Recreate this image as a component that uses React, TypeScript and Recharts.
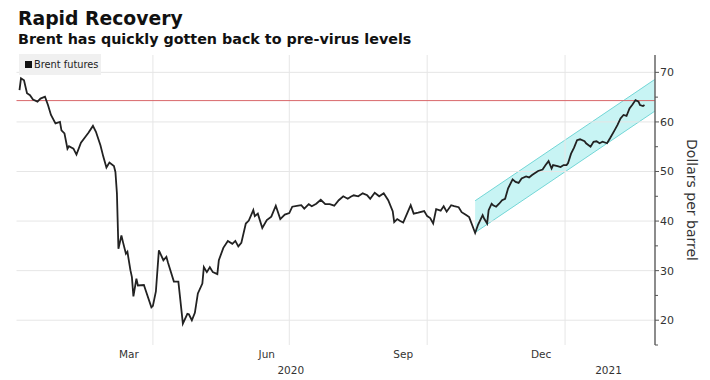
import React from 'react';
import { ComposedChart, Line, Area, XAxis, YAxis, ReferenceLine } from 'recharts';

// days since 2020-01-01
const dayIndex = [
  2, 3, 5, 7, 9, 11, 14, 16, 19, 21,
  23, 26, 29, 30, 32, 34, 35, 38, 40, 43,
  46, 48, 51, 53, 56, 58, 60, 62, 65, 66,
  67, 68, 70, 71, 73, 74, 76, 77, 78, 80,
  81, 85, 86, 90, 91, 93, 95, 98, 100, 101,
  105, 108, 111, 114, 115, 117, 119, 121, 124, 125,
  127, 129, 131, 134, 135, 138, 141, 144, 146, 148,
  150, 153, 155, 158, 159, 161, 164, 167, 170, 173,
  176, 179, 182, 184, 188, 190, 192, 195, 197, 200,
  203, 206, 209, 212, 215, 218, 221, 223, 225, 228,
  231, 234, 236, 239, 242, 245, 248, 251, 252, 254,
  256, 258, 261, 263, 265, 268, 272, 274, 276, 278,
  280, 283, 285, 287, 290, 292, 295, 297, 300, 302,
  304, 306, 308, 311, 312, 314, 315, 317, 318, 320,
  322, 324, 326, 328, 331, 333, 335, 337, 340, 342,
  344, 346, 348, 351, 353, 355, 357, 358, 361, 363,
  365, 367, 368, 370, 372, 374, 376, 379, 380, 383,
  385, 387, 389, 391, 394, 396, 399, 401, 403, 405,
  407, 409, 411, 413, 415, 416, 418, 419,
];

const brentPrice = [
  66.4, 68.8, 68.4, 65.8, 65.4, 64.5, 64.1, 64.7, 65.1, 63.4,
  61.4, 59.7, 60.0, 58.3, 57.7, 54.6, 55.1, 54.6, 53.4, 55.8,
  57.0, 57.8, 59.2, 58.0, 55.3, 52.9, 50.8, 51.8, 51.1, 49.9,
  45.6, 34.4, 37.1, 35.8, 33.4, 33.8, 30.1, 28.7, 24.8, 28.4,
  27.0, 27.1, 26.2, 22.6, 22.9, 25.8, 34.1, 32.1, 32.8, 31.7,
  27.8, 27.8, 19.3, 21.3, 21.2, 20.0, 21.5, 25.4, 27.4, 30.7,
  29.7, 30.7, 29.7, 29.3, 32.1, 34.6, 36.0, 35.4, 36.0, 34.9,
  35.6, 39.5, 40.1, 42.2, 41.0, 41.5, 38.6, 40.2, 40.9, 43.1,
  40.4, 41.3, 41.6, 42.9, 43.1, 43.2, 42.5, 43.4, 43.0, 43.5,
  44.3, 43.4, 43.4, 43.1, 44.2, 45.0, 44.5, 44.9, 45.2, 45.0,
  45.6, 45.2, 44.5, 45.7, 45.0, 45.6, 44.2, 42.0, 39.8, 40.4,
  40.0, 39.7, 41.8, 43.2, 41.5, 41.7, 42.0, 41.0, 40.6, 39.5,
  42.4, 42.1, 43.0, 41.9, 43.2, 43.0, 42.8, 41.8, 41.2, 40.8,
  39.2, 37.6, 39.3, 41.2, 40.5, 39.5, 42.2, 43.5, 43.2, 42.9,
  43.5, 44.2, 44.5, 46.6, 48.4, 47.9, 47.7, 48.6, 49.0, 48.8,
  49.3, 49.7, 50.1, 50.4, 51.3, 52.1, 50.6, 51.3, 51.1, 50.9,
  51.3, 51.3, 51.7, 53.6, 54.8, 56.3, 56.5, 56.1, 55.7, 55.0,
  56.0, 56.1, 55.7, 56.0, 55.7, 56.7, 58.3, 59.4, 60.7, 61.4,
  61.2, 62.7, 63.5, 64.4, 64.1, 63.4, 63.2, 63.4,
];

const channelDays = [306, 426];
const channelLow = [37.7, 62.2];
const channelHigh = [44.1, 68.6];

const monthTickDays = [75, 167, 258, 350];
const monthTickLabels = ['Mar', 'Jun', 'Sep', 'Dec'];
const quarterGridDays = [91, 182, 274, 366];
const yearTickDays = [183, 395];
const yearTickLabels = ['2020', '2021'];
const priceGridValues = [20, 30, 40, 50, 60, 70];
const priceTicks = [15, 20, 25, 30, 35, 40, 45, 50, 55, 60, 65, 70];
const preVirusLevel = 64.3;
const xDomain = [0, 426];
const yDomain = [15, 73.5];

const chartData: any[] = dayIndex.map((d, i) => {
  const row: any = { day: d, price: brentPrice[i] };
  const ci = channelDays.indexOf(d);
  if (ci >= 0) row.channel = [channelLow[ci], channelHigh[ci]];
  return row;
});
channelDays.forEach((d, ci) => {
  if (!dayIndex.includes(d)) chartData.push({ day: d, channel: [channelLow[ci], channelHigh[ci]] });
});
chartData.sort((a, b) => a.day - b.day);

const FONT = '"DejaVu Sans", Verdana, sans-serif';

const PriceTick = (props: any) => {
  const { x, y, payload } = props;
  const major = payload.value % 10 === 0;
  return (
    <g>
      <line x1={x} x2={x + (major ? 4 : 3)} y1={y} y2={y} stroke="#555" strokeWidth={1} />
      {major && (
        <text x={x + 5} y={y} dy="0.36em" fontSize={11} fill="#333" fontFamily={FONT}>
          {payload.value}
        </text>
      )}
    </g>
  );
};

const MonthTick = (props: any) => {
  const { x, y, payload } = props;
  const label = monthTickLabels[monthTickDays.indexOf(payload.value)];
  return (
    <text x={x} y={y + 13} textAnchor="middle" fontSize={10.5} fill="#333" fontFamily={FONT}>
      {label}
    </text>
  );
};

const YearTick = (props: any) => {
  const { x, y, payload } = props;
  const label = yearTickLabels[yearTickDays.indexOf(payload.value)];
  return (
    <text x={x} y={y + 14} textAnchor="middle" fontSize={10.5} fill="#333" fontFamily={FONT}>
      {label}
    </text>
  );
};

const YLabel = (props: any) => {
  const vb = props.viewBox || {};
  const cx = vb.x + 37;
  const cy = vb.y + vb.height / 2;
  return (
    <text
      x={cx}
      y={cy}
      transform={`rotate(90, ${cx}, ${cy})`}
      textAnchor="middle"
      dominantBaseline="central"
      fontSize={14}
      fill="#333"
      fontFamily={FONT}
    >
      Dollars per barrel
    </text>
  );
};

export default function App() {
  return (
    <div style={{ position: 'absolute', left: 0, top: 0, width: 710, height: 380, background: '#fff', fontFamily: FONT }}>
      <div style={{ position: 'absolute', left: 18, top: 7, fontSize: 18.8, fontWeight: 'bold', color: '#111', lineHeight: '24px', whiteSpace: 'nowrap' }}>
        Rapid Recovery
      </div>
      <div style={{ position: 'absolute', left: 18, top: 30, fontSize: 14.3, fontWeight: 'bold', color: '#111', lineHeight: '18px', whiteSpace: 'nowrap' }}>
        Brent has quickly gotten back to pre-virus levels
      </div>
      <ComposedChart
        width={710}
        height={380}
        data={chartData}
        margin={{ top: 55, right: 0, bottom: 0, left: 16.5 }}
      >
        <XAxis
          dataKey="day"
          type="number"
          domain={xDomain}
          ticks={monthTickDays}
          tick={<MonthTick />}
          axisLine={false}
          tickLine={false}
          tickSize={0}
          tickMargin={0}
          height={15}
          allowDataOverflow
        />
        <XAxis
          xAxisId="year"
          dataKey="day"
          type="number"
          domain={xDomain}
          ticks={yearTickDays}
          tick={<YearTick />}
          axisLine={false}
          tickLine={false}
          tickSize={0}
          tickMargin={0}
          height={20}
          allowDataOverflow
        />
        <YAxis
          orientation="right"
          type="number"
          domain={yDomain}
          ticks={priceTicks}
          tick={<PriceTick />}
          tickLine={false}
          tickSize={0}
          tickMargin={0}
          axisLine={{ stroke: '#666', strokeWidth: 1.5 }}
          width={55}
          allowDataOverflow
          label={<YLabel />}
        />
        {priceGridValues.map((v) => (
          <ReferenceLine key={'h' + v} y={v} stroke="#e6e6e6" strokeWidth={1} />
        ))}
        {quarterGridDays.map((d) => (
          <ReferenceLine key={'v' + d} x={d} stroke="#e6e6e6" strokeWidth={1} />
        ))}
        <Area
          dataKey="channel"
          type="linear"
          fill="#c8f4f4"
          fillOpacity={1}
          stroke="#72d6d6"
          strokeWidth={1}
          connectNulls
          isAnimationActive={false}
          dot={false}
          activeDot={false}
        />
        <ReferenceLine y={preVirusLevel} stroke="#d9676a" strokeWidth={1} />
        <Line
          dataKey="price"
          type="linear"
          stroke="#222"
          strokeWidth={1.8}
          dot={false}
          activeDot={false}
          connectNulls
          isAnimationActive={false}
        />
      </ComposedChart>
      <div style={{ position: 'absolute', left: 19, top: 54, width: 82, height: 21, background: '#f0f0f0', display: 'flex', alignItems: 'center', fontSize: 9.8, color: '#222' }}>
        <span style={{ display: 'inline-block', width: 7, height: 7, background: '#111', marginLeft: 6, marginRight: 2 }} />
        <span>Brent futures</span>
      </div>
    </div>
  );
}
